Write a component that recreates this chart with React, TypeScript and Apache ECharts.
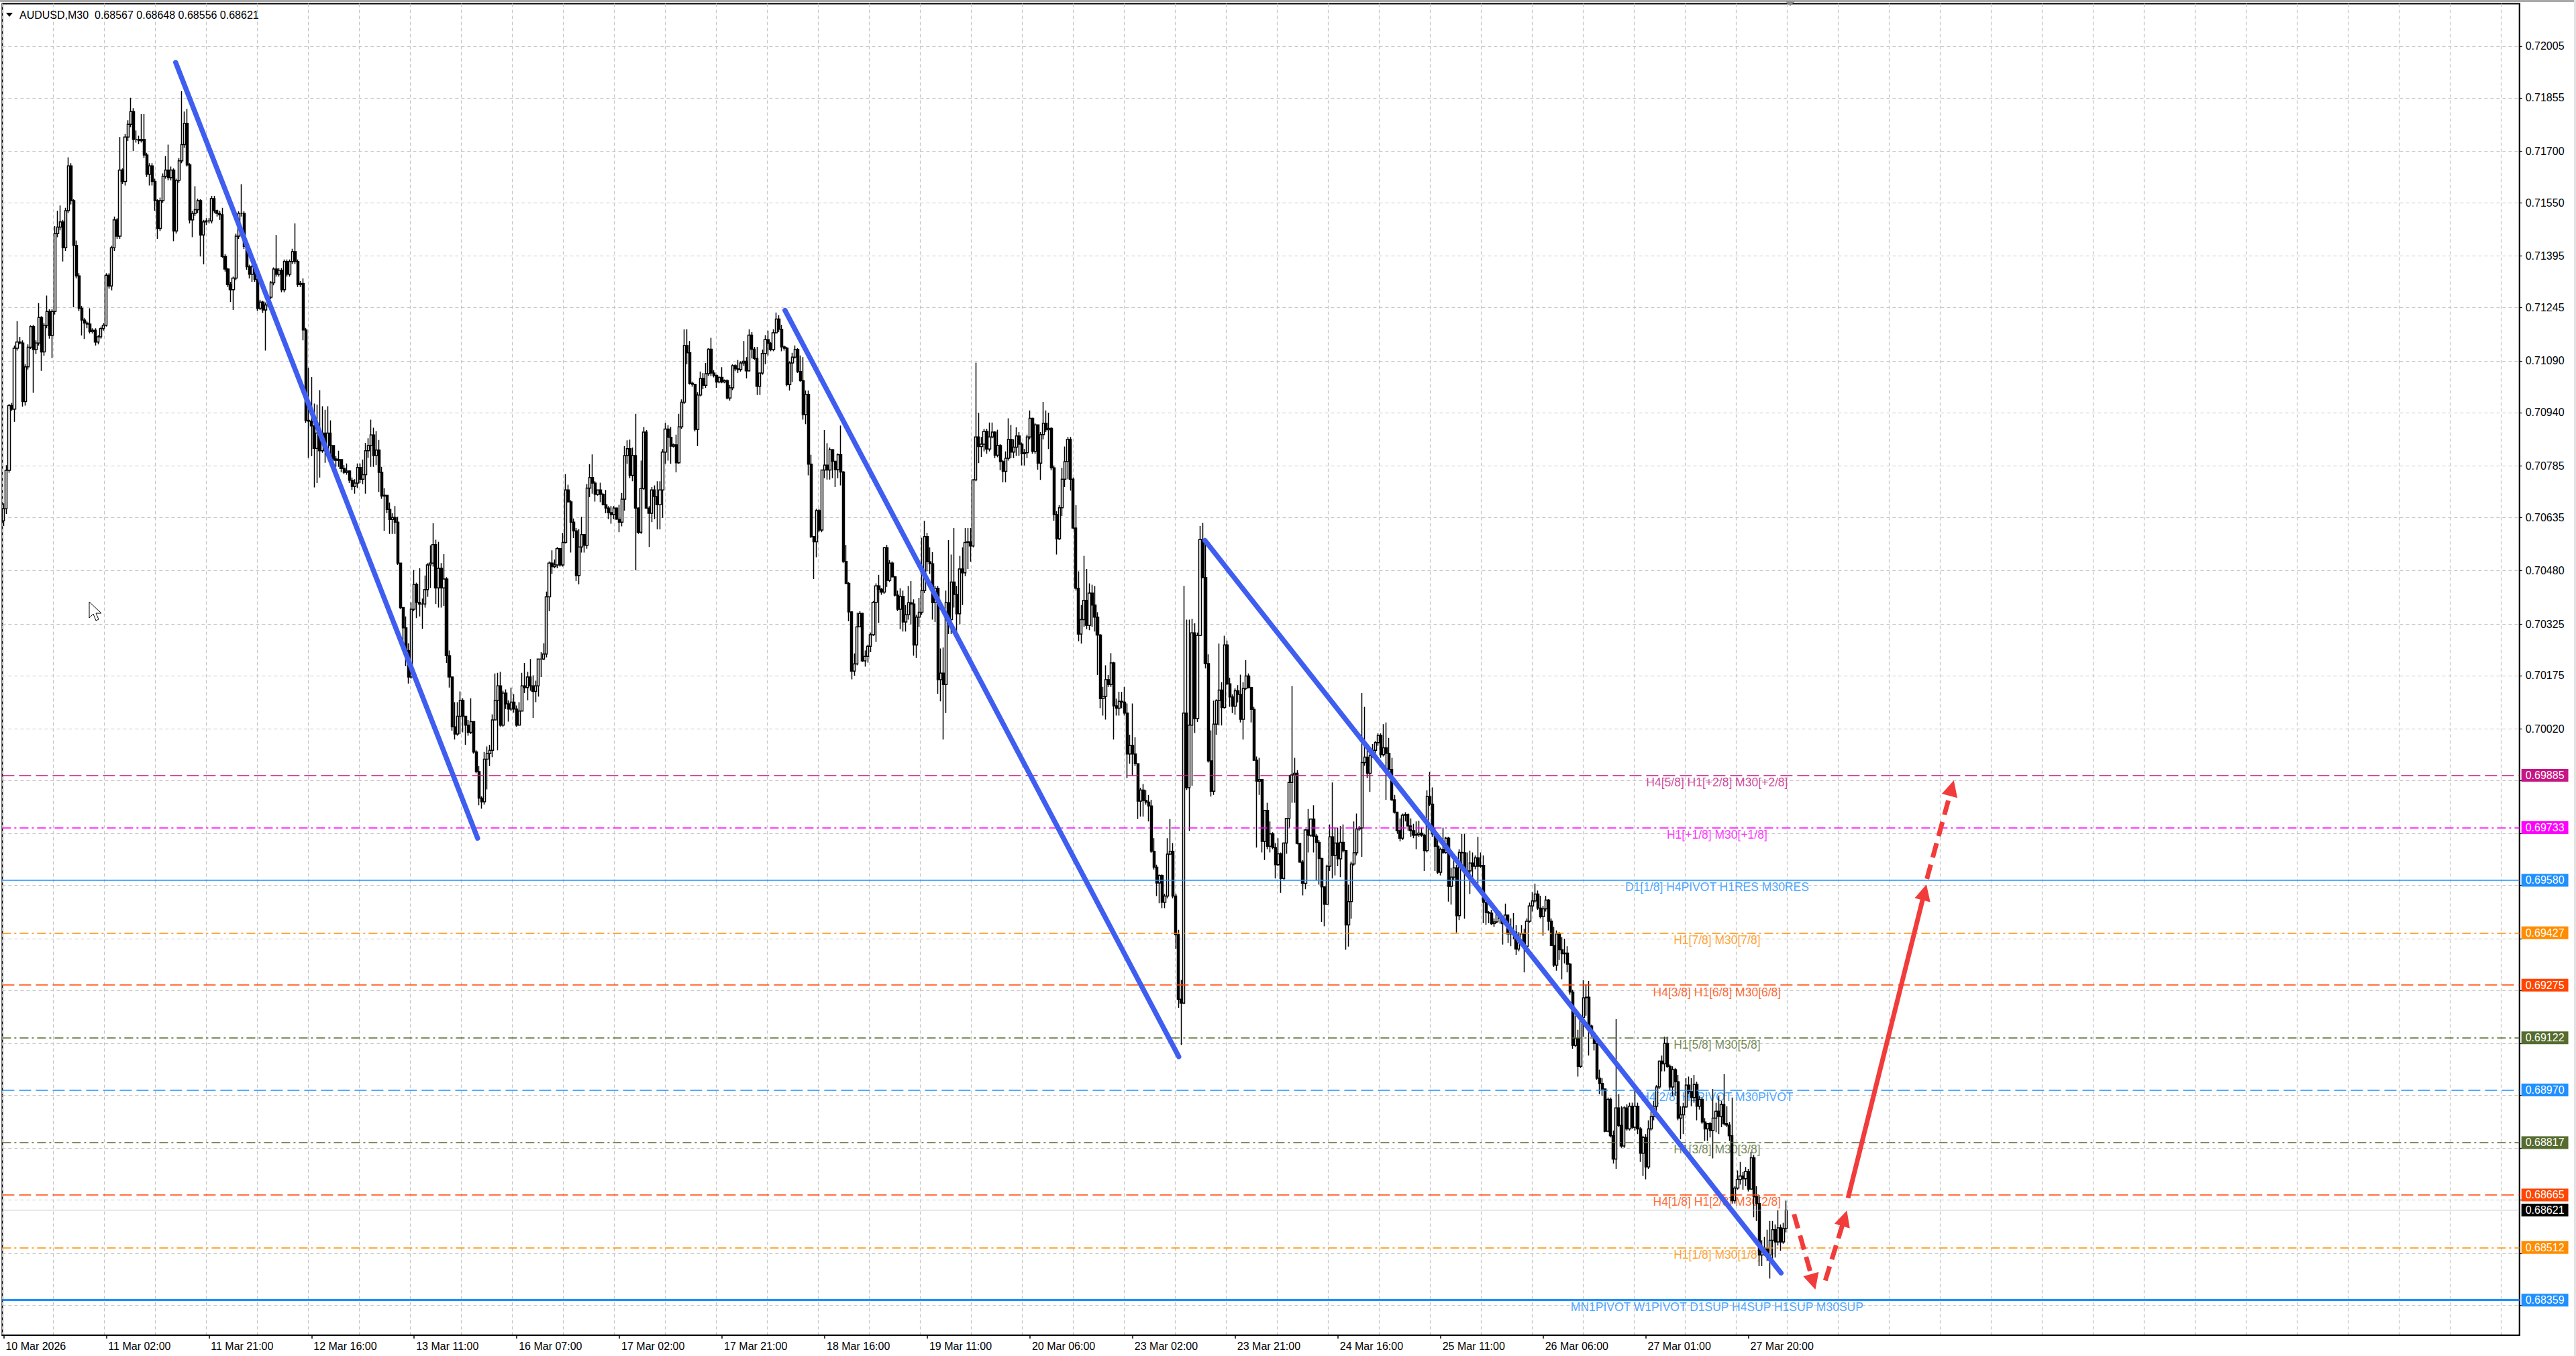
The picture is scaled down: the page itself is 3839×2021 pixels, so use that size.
import React, { useEffect, useRef } from 'react';
import * as echarts from 'echarts';

const FONT = 'Liberation Sans';

// ---- price data: M30 candles, [open, high, low, close] in points (0.00001) above 0.68000 ----
const BASE_PRICE = 0.68;
const POINT = 0.00001;

const ohlc10to12Mar = [
  [2625,2676,2610,2660],[2660,2787,2645,2772],[2772,2965,2765,2960],[2960,2968,2945,2950],[2950,3135,2913,3127],
  [3127,3206,3120,3145],[3145,3160,3138,3142],[3142,3150,2957,2972],[2972,3080,2960,3073],[3073,3138,3065,3130],
  [3130,3194,3125,3190],[3190,3195,2997,3123],[3123,3150,3110,3142],[3142,3258,3135,3216],[3216,3220,3061,3116],
  [3116,3200,3105,3194],[3194,3280,3185,3234],[3234,3240,3155,3164],[3164,3240,3098,3234],[3234,3482,3225,3460],
  [3460,3527,3450,3479],[3479,3542,3470,3494],[3494,3500,3379,3419],[3419,3535,3410,3527],[3527,3682,3520,3657],
  [3657,3665,3545,3556],[3556,3560,3246,3426],[3426,3440,3330,3337],[3337,3345,3235,3243],[3243,3250,3164,3209],
  [3209,3215,3154,3200],[3200,3205,3185,3197],[3197,3243,3170,3175],[3175,3185,3170,3179],[3179,3185,3135,3145],
  [3145,3165,3138,3160],[3160,3190,3155,3184],[3184,3200,3178,3194],[3194,3345,3190,3339],[3339,3345,3300,3308],
  [3308,3425,3295,3419],[3419,3510,3410,3500],[3500,3505,3445,3453],[3453,3741,3445,3645],[3645,3650,3605,3612],
  [3612,3750,3600,3741],[3741,3790,3730,3778],[3778,3855,3770,3815],[3815,3825,3700,3734],[3734,3760,3725,3734],
  [3734,3745,3720,3731],[3731,3808,3725,3734],[3734,3808,3680,3689],[3689,3695,3625,3633],[3633,3665,3600,3657],
  [3657,3665,3600,3612],[3612,3620,3527,3556],[3556,3560,3445,3475],[3475,3565,3468,3556],[3556,3635,3550,3627],
  [3627,3686,3620,3645],[3645,3719,3615,3623],[3623,3655,3615,3645],[3645,3650,3438,3468],[3468,3620,3460,3615],
  [3615,3680,3608,3672],[3672,3874,3665,3719],[3719,3815,3710,3781],[3781,3823,3655,3660],[3660,3665,3490,3500],
  [3500,3527,3450,3519],[3519,3598,3512,3530],[3530,3562,3520,3556],[3556,3560,3394,3456],[3456,3500,3371,3494],
  [3494,3505,3485,3497],[3497,3505,3490,3497],[3497,3570,3490,3562],[3562,3570,3520,3527],[3527,3530,3510,3519],
  [3519,3527,3500,3515],[3515,3535,3390,3394],[3394,3400,3350,3357],[3357,3360,3305,3312],[3312,3320,3261,3297],
  [3297,3335,3238,3331],[3331,3460,3325,3453],[3453,3525,3445,3519],[3519,3604,3510,3519],[3519,3525,3415,3423],
  [3423,3430,3355,3364],[3364,3370,3330,3342],[3342,3370,3320,3364],[3364,3370,3320,3327],[3327,3335,3235,3243],
  [3243,3268,3238,3261],[3261,3265,3230,3238],[3238,3260,3120,3253],[3253,3282,3246,3275],[3275,3322,3270,3317],
  [3317,3362,3310,3357],[3357,3456,3335,3342],[3342,3360,3335,3354],[3354,3360,3290,3297],[3297,3385,3290,3379],
  [3379,3385,3335,3342],[3342,3385,3335,3379],[3379,3416,3372,3408],[3408,3490,3372,3379],[3379,3385,3305,3312],
  [3312,3322,3305,3315],[3315,3330,3150,3180],[3180,3186,2910,2917],
];

const ohlc12to16Mar = [
  [2917,3070,2808,2915],[2915,3043,2813,2901],[2901,2966,2722,2836],[2836,2963,2735,2880],[2880,3005,2751,2829],
  [2829,2958,2823,2880],[2880,2948,2794,2829],[2829,2958,2813,2880],[2880,2917,2813,2844],[2844,2844,2782,2805],
  [2805,2813,2782,2801],[2801,2829,2782,2803],[2803,2803,2766,2777],[2777,2787,2761,2766],[2766,2792,2759,2770],
  [2770,2772,2735,2743],[2743,2751,2715,2725],[2725,2746,2704,2735],[2735,2792,2720,2780],[2780,2792,2735,2746],
  [2746,2803,2732,2759],[2759,2852,2704,2829],[2829,2865,2808,2844],[2844,2919,2782,2875],[2875,2896,2782,2815],
  [2815,2886,2787,2831],[2831,2860,2709,2766],[2766,2782,2689,2697],[2697,2720,2596,2699],[2699,2699,2647,2658],
  [2658,2678,2587,2629],[2629,2647,2587,2635],[2635,2668,2587,2621],[2621,2637,2497,2502],[2502,2502,2368,2373],
  [2373,2373,2254,2314],[2314,2347,2202,2248],[2248,2269,2152,2171],[2171,2388,2166,2368],[2368,2482,2362,2440],
  [2440,2445,2342,2388],[2388,2487,2347,2383],[2383,2399,2311,2383],[2383,2466,2373,2425],[2425,2502,2404,2497],
  [2497,2554,2430,2502],[2502,2618,2492,2556],[2556,2570,2383,2430],[2430,2564,2373,2487],[2487,2502,2373,2430],
  [2430,2528,2378,2456],[2456,2461,2212,2233],[2233,2248,2140,2171],[2171,2171,2015,2026],[2026,2098,1989,2005],
  [2005,2098,2000,2057],[2057,2129,2005,2103],[2103,2109,2010,2057],[2057,2057,1974,2031],[2031,2046,2000,2010],
  [2010,2109,2005,2041],[2041,2041,1948,1953],[1953,1958,1891,1896],[1896,1912,1798,1819],[1819,1824,1788,1808],
  [1808,1953,1800,1932],[1932,1969,1844,1948],[1948,1974,1912,1958],[1958,2062,1938,2046],[2046,2181,2046,2103],
  [2103,2183,1958,2145],[2145,2186,2026,2031],[2031,2131,2026,2124],[2124,2135,2078,2093],[2093,2103,2041,2078],
  [2078,2140,2072,2098],[2098,2121,2067,2078],[2078,2088,2026,2031],[2031,2098,2031,2072],[2072,2183,2072,2145],
  [2145,2212,2124,2140],[2140,2186,2103,2171],[2171,2223,2131,2145],[2145,2176,2052,2129],[2129,2160,2098,2145],
  [2145,2223,2114,2223],[2223,2243,2171,2223],[2223,2269,2220,2238],[2238,2419,2228,2404],[2404,2507,2362,2502],
  [2502,2539,2471,2492],[2492,2513,2487,2497],[2497,2549,2487,2544],[2544,2546,2492,2497],[2497,2590,2492,2562],
  [2562,2761,2559,2715],[2715,2730,2678,2680],[2680,2685,2533,2621],[2621,2632,2575,2596],[2596,2604,2450,2466],
  [2466,2601,2440,2549],[2549,2637,2533,2585],[2585,2585,2533,2554],[2554,2732,2544,2720],[2720,2790,2694,2751],
  [2751,2818,2704,2735],
];

const ohlc16to18Mar = [
  [2735,2740,2681,2702],[2702,2715,2698,2715],[2715,2736,2679,2702],[2702,2706,2670,2672],[2672,2715,2647,2662],
  [2662,2668,2630,2649],[2649,2668,2617,2643],[2643,2668,2630,2662],[2662,2664,2628,2630],[2630,2672,2592,2621],
  [2621,2706,2609,2688],[2688,2842,2655,2815],[2815,2859,2791,2835],[2835,2861,2749,2757],[2757,2838,2740,2815],
  [2815,2936,2481,2662],[2662,2664,2587,2592],[2592,2800,2587,2719],[2719,2898,2715,2883],[2883,2889,2660,2662],
  [2662,2668,2549,2647],[2647,2723,2621,2715],[2715,2728,2630,2696],[2696,2740,2600,2672],[2672,2740,2600,2715],
  [2715,2834,2634,2825],[2825,2910,2791,2892],[2892,2903,2800,2868],[2868,2898,2791,2842],[2842,2850,2838,2846],
  [2846,2876,2766,2794],[2794,2936,2791,2898],[2898,2978,2893,2970],[2970,3182,2965,3135],[3135,3182,3080,3114],
  [3114,3148,3021,3025],[3025,3030,3015,3022],[3022,3022,2885,2891],[2891,2999,2842,2991],[2991,3059,2987,3039],
  [3039,3055,3008,3019],[3019,3084,3012,3053],[3053,3127,3046,3124],[3124,3157,3046,3055],[3055,3063,3042,3048],
  [3048,3050,3012,3029],[3029,3045,3025,3042],[3042,3072,3025,3029],[3029,3036,3025,3033],[3033,3036,2978,2982],
  [2982,3020,2975,3012],[3012,3080,3005,3076],[3076,3080,3060,3067],[3067,3093,3055,3065],[3065,3089,3059,3084],
  [3084,3148,3076,3089],[3089,3101,3039,3061],[3061,3182,3059,3165],[3165,3174,3097,3124],[3124,3131,3093,3097],
  [3097,3131,2991,3016],[3016,3055,2991,3055],[3055,3123,3050,3112],[3112,3165,3080,3152],[3152,3178,3106,3141],
  [3141,3145,3118,3123],[3123,3182,3118,3172],[3172,3231,3170,3212],[3212,3223,3174,3182],[3182,3195,3118,3131],
  [3131,3135,3120,3127],[3127,3131,3016,3021],[3021,3089,3004,3084],[3084,3114,3029,3101],[3101,3135,3097,3123],
  [3123,3127,3055,3059],[3059,3106,3029,3033],[3033,3101,2919,2934],[2934,3004,2906,2993],[2993,3004,2757,2790],
  [2790,2817,2575,2579],[2579,2579,2456,2564],[2564,2660,2519,2655],[2655,2660,2592,2598],[2598,2774,2592,2773],
  [2773,2889,2749,2787],[2787,2851,2745,2773],[2773,2838,2745,2832],[2832,2834,2749,2798],[2798,2800,2723,2774],
  [2774,2821,2749,2817],[2817,2902,2728,2767],[2767,2770,2502,2507],[2507,2555,2441,2443],[2443,2447,2333,2360],
  [2360,2362,2164,2188],[2188,2239,2175,2209],[2209,2358,2205,2317],[2317,2362,2316,2356],[2356,2358,2215,2218],
  [2218,2248,2201,2231],[2231,2265,2213,2260],[2260,2300,2243,2294],[2294,2392,2290,2388],[2388,2443,2273,2436],
  [2436,2468,2328,2426],[2426,2430,2410,2418],[2418,2549,2413,2547],[2547,2555,2433,2452],[2452,2511,2447,2502],
  [2502,2507,2460,2462],[2462,2465,2405,2409],[2409,2422,2362,2368],
];

const ohlc18to23Mar = [
  [2368,2429,2310,2405],[2405,2422,2303,2331],[2331,2380,2303,2352],[2352,2436,2338,2387],[2387,2450,2324,2383],
  [2383,2397,2233,2264],[2264,2352,2226,2345],[2345,2401,2317,2359],[2359,2576,2352,2422],[2422,2625,2415,2579],
  [2579,2590,2478,2506],[2506,2548,2471,2500],[2500,2534,2338,2387],[2387,2436,2331,2429],[2429,2436,2122,2163],
  [2163,2254,2100,2182],[2182,2257,1989,2149],[2149,2422,2066,2387],[2387,2569,2296,2338],[2338,2527,2296,2447],
  [2447,2604,2373,2411],[2411,2436,2303,2355],[2355,2523,2324,2485],[2485,2548,2380,2474],[2474,2604,2464,2562],
  [2562,2604,2485,2564],[2564,2604,2506,2552],[2552,2746,2548,2744],[2744,3085,2740,2869],[2869,2939,2793,2841],
  [2841,2869,2811,2848],[2848,2893,2827,2885],[2885,2893,2820,2834],[2834,2911,2827,2869],[2869,2911,2865,2883],
  [2883,2886,2807,2816],[2816,2890,2810,2844],[2844,2848,2772,2797],[2797,2802,2737,2769],[2769,2827,2737,2807],
  [2807,2923,2800,2862],[2862,2904,2807,2825],[2825,2862,2807,2839],[2839,2897,2814,2872],[2872,2883,2814,2848],
  [2848,2853,2786,2820],[2820,2834,2786,2823],[2823,2876,2807,2869],[2869,2946,2862,2923],[2923,2925,2820,2827],
  [2827,2909,2820,2904],[2904,2904,2774,2793],[2793,2883,2744,2876],[2876,2971,2862,2909],[2909,2946,2883,2890],
  [2890,2939,2834,2894],[2894,2897,2772,2779],[2779,2786,2625,2643],[2643,2653,2527,2573],[2573,2671,2569,2663],
  [2663,2779,2639,2746],[2746,2841,2723,2797],[2797,2869,2746,2862],[2862,2869,2713,2746],[2746,2751,2601,2604],
  [2604,2671,2422,2429],[2429,2478,2275,2296],[2296,2380,2268,2338],[2338,2523,2317,2394],[2394,2485,2310,2321],
  [2321,2443,2307,2415],[2415,2439,2317,2380],[2380,2436,2303,2345],[2345,2359,2177,2293],[2293,2296,2080,2108],
  [2108,2142,2059,2115],[2115,2205,2047,2163],[2163,2177,2142,2149],[2149,2240,2142,2212],[2212,2215,1989,2087],
  [2087,2108,2059,2080],[2080,2128,2059,2100],[2100,2128,2080,2098],[2098,2142,2059,2066],[2066,2094,1877,1947],
  [1947,2003,1919,1972],[1972,2094,1884,1947],[1947,1996,1912,1919],[1919,1919,1758,1810],[1810,1849,1765,1842],
  [1842,1860,1765,1812],[1812,1842,1800,1807],[1807,1828,1751,1796],[1796,1814,1660,1664],[1664,1702,1611,1618],
  [1618,1625,1534,1572],[1572,1597,1513,1594],[1594,1597,1499,1516],[1516,1541,1499,1534],[1534,1702,1527,1656],
  [1656,1758,1653,1664],[1664,1688,1527,1534],[1534,1541,1381,1422],[1422,1436,1209,1234],[1234,1290,1101,1223],
  [1223,2436,1220,2066],[2066,2338,1842,1849],[1849,2338,1723,2031],[2031,2340,1855,2299],[2299,2327,2008,2050],
];

const ohlc23to25Mar = [
  [2050,2300,2040,2292],[2292,2610,2290,2571],[2571,2619,2458,2460],[2460,2569,2196,2210],[2210,2237,1922,1927],
  [1927,2016,1823,1839],[1839,2102,1828,2034],[2034,2106,2003,2102],[2102,2268,2030,2133],[2133,2156,2030,2082],
  [2082,2291,2079,2264],[2264,2277,2147,2151],[2151,2169,2084,2113],[2113,2120,2066,2086],[2086,2138,2061,2131],
  [2131,2147,2097,2120],[2120,2178,2039,2048],[2048,2156,1989,2138],[2138,2220,2133,2174],[2174,2181,2138,2140],
  [2140,2142,2039,2077],[2077,2084,1927,1929],[1929,1940,1675,1868],[1868,1936,1828,1873],[1873,1873,1661,1693],
  [1693,1783,1639,1783],[1783,1805,1670,1679],[1679,1751,1661,1715],[1715,1720,1670,1675],[1675,1688,1585,1625],
  [1625,1702,1621,1657],[1657,1661,1543,1585],[1585,1690,1580,1688],[1688,1760,1657,1760],[1760,1886,1733,1864],
  [1864,2145,1805,1886],[1886,1936,1805,1891],[1891,1900,1684,1687],[1687,1688,1630,1633],[1633,1639,1536,1571],
  [1571,1729,1554,1726],[1726,1787,1661,1711],[1711,1760,1706,1758],[1758,1798,1661,1708],[1708,1715,1580,1690],
  [1690,1697,1567,1643],[1643,1645,1459,1561],[1561,1562,1446,1510],[1510,1625,1509,1621],[1621,1742,1607,1706],
  [1706,1864,1585,1652],[1652,1733,1594,1688],[1688,1733,1621,1642],[1642,1738,1589,1690],[1690,1742,1661,1666],
  [1666,1668,1378,1450],[1450,1567,1387,1518],[1518,1634,1468,1627],[1627,1751,1622,1660],[1660,1774,1652,1729],
  [1729,1738,1724,1732],[1732,2124,1648,1922],[1922,2084,1913,1938],[1938,1958,1877,1891],[1891,1958,1837,1942],
  [1942,1976,1936,1958],[1958,1985,1945,1980],[1980,2007,1971,2001],[2001,2007,1936,1945],[1945,2034,1940,1965],
  [1965,2039,1814,1949],[1949,1994,1900,1902],[1902,1936,1810,1814],[1814,1828,1774,1778],[1778,1778,1715,1724],
  [1724,1760,1693,1702],[1702,1774,1697,1769],[1769,1778,1751,1771],[1771,1774,1724,1738],[1738,1760,1706,1724],
  [1724,1744,1702,1711],[1711,1751,1670,1713],[1713,1753,1706,1717],[1717,1733,1706,1711],[1711,1715,1607,1666],
  [1666,1841,1661,1823],[1823,1895,1796,1801],[1801,1850,1706,1715],[1715,1733,1607,1679],[1679,1706,1598,1603],
  [1603,1675,1594,1670],[1670,1733,1657,1661],[1661,1706,1657,1702],[1702,1706,1518,1562],[1562,1616,1509,1589],
  [1589,1643,1580,1616],[1616,1625,1428,1477],[1477,1670,1464,1661],[1661,1715,1616,1660],[1660,1715,1468,1603],
  [1603,1661,1603,1607],[1607,1666,1540,1630],[1630,1661,1580,1621],[1621,1652,1612,1645],[1645,1706,1571,1621],
  [1621,1661,1616,1623],[1623,1652,1455,1516],[1516,1518,1450,1486],[1486,1490,1455,1484],
];

const ohlc25to27Mar = [
  [1484,1494,1449,1454],[1454,1469,1444,1459],[1459,1494,1455,1484],[1484,1489,1454,1469],[1469,1474,1393,1454],
  [1454,1512,1449,1479],[1479,1479,1398,1424],[1424,1469,1388,1427],[1427,1484,1408,1429],[1429,1449,1363,1380],
  [1380,1429,1373,1398],[1398,1449,1393,1424],[1424,1439,1312,1388],[1388,1469,1373,1461],[1461,1515,1457,1505],
  [1505,1545,1489,1520],[1520,1570,1515,1540],[1540,1550,1494,1499],[1499,1535,1469,1474],[1474,1505,1419,1497],
  [1497,1535,1489,1522],[1522,1525,1434,1461],[1461,1469,1388,1390],[1390,1444,1328,1333],[1333,1434,1317,1424],
  [1424,1429,1348,1378],[1378,1414,1292,1366],[1366,1410,1338,1368],[1368,1388,1312,1336],[1336,1340,1247,1255],
  [1255,1262,1090,1100],[1100,1186,1095,1120],[1120,1145,1009,1039],[1039,1186,1034,1181],[1181,1289,1125,1238],
  [1238,1277,1186,1240],[1240,1287,1070,1156],[1156,1160,1125,1135],[1135,1140,1085,1105],[1105,1105,999,1004],
  [1004,1029,958,989],[989,1004,953,973],[973,973,847,850],[850,948,847,943],[943,948,832,837],
  [837,852,756,769],[769,1176,741,918],[918,958,862,867],[867,923,802,807],[807,923,802,918],
  [918,928,852,857],[857,933,852,923],[923,933,857,862],[862,968,852,923],[923,933,842,857],
  [857,862,761,786],[786,837,720,832],[832,842,710,746],[746,882,741,857],[857,923,852,893],
  [893,938,882,923],[923,984,898,979],[979,1056,973,1054],[1054,1070,1024,1046],[1046,1125,1024,1105],
  [1105,1125,1034,1039],[1039,1044,968,979],[979,1039,953,1029],[1029,1034,953,994],[994,1014,882,888],
  [888,923,827,898],[898,933,842,921],[921,1004,918,984],[984,1009,958,965],[965,1004,923,948],
  [948,1014,933,986],[986,994,882,923],[923,953,913,943],[943,948,872,877],[877,888,822,857],
  [857,872,822,872],[872,877,832,852],[852,973,771,888],[888,933,847,908],[908,953,842,893],
  [893,938,862,928],[928,1016,867,872],[872,923,862,868],[868,877,822,837],[837,948,640,648],
  [648,690,640,685],[685,736,680,710],[710,761,695,720],[720,731,680,712],[712,746,690,733],
  [733,741,675,682],[682,790,680,773],[773,782,600,660],[660,690,589,640],[640,665,458,490],
  [490,533,458,503],[503,543,488,510],[510,564,473,490],[490,589,422,533],[533,589,468,564],
  [564,579,483,528],[528,621,518,569],[569,579,503,528],[528,584,523,567],[567,648,556,621],
];

// ---- axes ----
const xTickLabels = [
  '10 Mar 2026', '11 Mar 02:00', '11 Mar 21:00', '12 Mar 16:00', '13 Mar 11:00', '16 Mar 07:00',
  '17 Mar 02:00', '17 Mar 21:00', '18 Mar 16:00', '19 Mar 11:00', '20 Mar 06:00', '23 Mar 02:00',
  '23 Mar 21:00', '24 Mar 16:00', '25 Mar 11:00', '26 Mar 06:00', '27 Mar 01:00', '27 Mar 20:00',
];
const barsPerLabel = 38;
const barsPerGridLine = 18.882;
const totalSlots = 932;

// price grid ticks; the lower ones sit under the level price boxes, so only the upper ones carry a label
const priceGridTicks = [
  0.72005, 0.71855, 0.717, 0.7155, 0.71395, 0.71245, 0.7109, 0.7094, 0.70785, 0.70635, 0.7048, 0.70325,
  0.70175, 0.7002, 0.6987, 0.69715, 0.69565, 0.6941, 0.6926, 0.69105, 0.68955, 0.688, 0.6865, 0.68495, 0.68345,
];
const priceTickLabels = [
  0.72005, 0.71855, 0.717, 0.7155, 0.71395, 0.71245, 0.7109, 0.7094, 0.70785, 0.70635, 0.7048, 0.70325,
  0.70175, 0.7002,
];
const priceMin = 0.68257;
const priceMax = 0.72129;

// ---- Murrey / pivot levels ----
const levelPrices = [0.69885, 0.69733, 0.6958, 0.69427, 0.69275, 0.69122, 0.6897, 0.68817, 0.68665, 0.68512, 0.68359];
const levelTexts = [
  'H4[5/8] H1[+2/8] M30[+2/8]',
  'H1[+1/8] M30[+1/8]',
  'D1[1/8] H4PIVOT H1RES M30RES',
  'H1[7/8] M30[7/8]',
  'H4[3/8] H1[6/8] M30[6/8]',
  'H1[5/8] M30[5/8]',
  'H4[2/8] H1PIVOT M30PIVOT',
  'H1[3/8] M30[3/8]',
  'H4[1/8] H1[2/8] M30[2/8]',
  'H1[1/8] M30[1/8]',
  'MN1PIVOT W1PIVOT D1SUP H4SUP H1SUP M30SUP',
];
const lastPrice = 0.68621;
const headerText = 'AUDUSD,M30  0.68567 0.68648 0.68556 0.68621';

// ---- drawn annotations, [bar, price] ----
const trendLines = [
  [[63.7, 0.71958], [175.5, 0.69702]],
  [[289.3, 0.71237], [435.1, 0.69067]],
  [[444.8, 0.70568], [658.1, 0.68438]],
];
const forecastSegments = [
  [[662.9, 0.68609], [670.0, 0.68412]],
  [[674.5, 0.68416], [681.6, 0.68597]],
  [[682.9, 0.68656], [711.2, 0.69545]],
  [[712.1, 0.69584], [721.3, 0.69848]],
];
const levelLabelBar = 634.4;

// ---- styles ----
const LEVEL_COLORS = ['#C71585', '#FF00FF', '#1E90FF', '#FF8C00', '#FF4500', '#556B2F', '#1E90FF', '#556B2F', '#FF4500', '#FF8C00', '#1E90FF'];
const DASH = [18, 7];
const DASHDOT = [13, 5, 3, 5];
const LEVEL_LINE_TYPES: any[] = [DASH, DASHDOT, 'solid', DASHDOT, DASH, DASHDOT, DASH, DASHDOT, DASH, DASHDOT, 'solid'];
const LEVEL_WIDTHS = [1.5, 1.5, 1.5, 1.5, 1.5, 1.5, 1.5, 1.5, 1.5, 1.5, 3];
const FORECAST_DASHED = [true, true, false, true];
const TREND_BLUE = '#3F5EF0';
const FORECAST_RED = '#F23C3C';
const GRID_COLOR = '#C4C4C4';

function toPrice(p: number) {
  return +(BASE_PRICE + p * POINT).toFixed(5);
}

function buildOption() {
  const allBars = [
    ...ohlc10to12Mar, ...ohlc12to16Mar, ...ohlc16to18Mar,
    ...ohlc18to23Mar, ...ohlc23to25Mar, ...ohlc25to27Mar,
  ];
  const candleData = allBars.map(([o, h, l, c]) => [toPrice(o), toPrice(c), toPrice(l), toPrice(h)]);
  const slotKeys = Array.from({ length: totalSlots }, (_, i) => String(i));
  const isLabelSlot = (i: number) => i % barsPerLabel === 0 && i / barsPerLabel < xTickLabels.length;

  const levelMarkData: any[] = levelPrices.map((p, k) => ({
    yAxis: p,
    lineStyle: { color: LEVEL_COLORS[k], width: LEVEL_WIDTHS[k], type: LEVEL_LINE_TYPES[k] },
    label: {
      show: true, position: 'end', formatter: p.toFixed(5), color: '#fff',
      backgroundColor: LEVEL_COLORS[k], padding: [1, 6, 1, 6], fontSize: 16, fontFamily: FONT,
      distance: 3, lineHeight: 17,
    },
  }));
  levelMarkData.push({
    yAxis: lastPrice,
    lineStyle: { color: '#BDBDBD', width: 1.2, type: 'solid' },
    label: {
      show: true, position: 'end', formatter: lastPrice.toFixed(5), color: '#fff',
      backgroundColor: '#000', padding: [1, 6, 1, 6], fontSize: 16, fontFamily: FONT,
      distance: 3, lineHeight: 17,
    },
  });

  const series: any[] = [
    {
      name: 'levelTexts', type: 'scatter', xAxisIndex: 1, yAxisIndex: 0, z: 1, silent: true,
      symbolSize: 0,
      data: levelPrices.map((p, k) => ({
        value: [levelLabelBar, p],
        label: { color: LEVEL_COLORS[k], formatter: levelTexts[k] },
      })),
      label: { show: true, position: 'bottom', distance: 0, fontSize: 17.5, fontFamily: FONT, lineHeight: 21 },
    },
    {
      name: 'AUDUSD', type: 'candlestick', xAxisIndex: 0, yAxisIndex: 0, z: 3, silent: true,
      large: false, barWidth: 3.6, data: candleData,
      itemStyle: { color: '#ffffff', color0: '#000000', borderColor: '#000000', borderColor0: '#000000', borderWidth: 1.5 },
    },
    {
      name: 'levels', type: 'line', xAxisIndex: 1, yAxisIndex: 0, z: 4, silent: true, clip: false,
      symbol: 'none', showSymbol: false, lineStyle: { opacity: 0, width: 0 },
      data: levelPrices.map((p) => [-0.5, p]),
      markLine: { silent: true, symbol: 'none', animation: false, precision: 5, data: levelMarkData },
    },
    ...trendLines.map((pts, k) => ({
      name: 'trend' + k, type: 'line', xAxisIndex: 1, yAxisIndex: 0, z: 5, silent: true, clip: false,
      symbol: 'none', showSymbol: false, data: pts,
      lineStyle: { color: TREND_BLUE, width: 7.5, cap: 'round' },
    })),
    {
      name: 'forecast', type: 'line', xAxisIndex: 1, yAxisIndex: 0, z: 6, silent: true, clip: false,
      symbol: 'none', showSymbol: false, lineStyle: { opacity: 0, width: 0 },
      data: forecastSegments.map((s) => s[0]),
      markLine: {
        silent: true, animation: false, precision: 5, symbol: ['none', 'triangle'], symbolSize: 24,
        label: { show: false },
        data: forecastSegments.map((s, k) => [
          { coord: s[0], lineStyle: { color: FORECAST_RED, width: 7, type: FORECAST_DASHED[k] ? [22, 11] : 'solid', cap: 'butt' } },
          { coord: s[1] },
        ]),
      },
    },
  ];

  return {
    animation: false,
    backgroundColor: '#ffffff',
    textStyle: { fontFamily: FONT },
    title: {
      text: headerText, left: 29, top: 14, padding: 0,
      textStyle: { fontSize: 16, fontWeight: 'normal', color: '#000', fontFamily: FONT },
    },
    grid: {
      left: 3.4, right: 84.3, top: 5.4, bottom: 31, show: true, borderColor: '#000', borderWidth: 2,
      containLabel: false, outerBoundsMode: 'none',
    },
    xAxis: [
      {
        type: 'category', data: slotKeys, boundaryGap: true, position: 'bottom',
        axisLine: { show: true, onZero: false, lineStyle: { color: '#000', width: 2 } },
        axisTick: { show: true, alignWithLabel: true, interval: (i: number) => isLabelSlot(i), length: 5, lineStyle: { color: '#000', width: 1.5 } },
        axisLabel: {
          show: true, interval: (i: number) => isLabelSlot(i),
          formatter: (_v: string, i: number) => (isLabelSlot(i) ? xTickLabels[i / barsPerLabel] : ''),
          align: 'left', color: '#000', fontSize: 16, fontFamily: FONT, margin: 8, padding: [0, 0, 0, 3],
        },
        splitLine: { show: false },
      },
      {
        type: 'value', min: -0.5, max: totalSlots - 0.5, interval: barsPerGridLine, position: 'top',
        axisLine: { show: false }, axisTick: { show: false }, axisLabel: { show: false },
        splitLine: { show: true, lineStyle: { color: GRID_COLOR, type: [5, 4], width: 1.2 } },
      },
    ],
    yAxis: {
      type: 'value', position: 'right', min: priceMin, max: priceMax, scale: true,
      axisLine: { show: true, onZero: false, lineStyle: { color: '#000', width: 2 } },
      axisTick: { show: true, customValues: priceGridTicks, length: 4, lineStyle: { color: '#000', width: 1.2 } },
      axisLabel: {
        show: true, customValues: priceTickLabels, formatter: (v: number) => v.toFixed(5),
        color: '#000', fontSize: 16, fontFamily: FONT, margin: 9,
      },
      splitLine: { show: true, lineStyle: { color: GRID_COLOR, type: [5, 4], width: 1.2 } },
    },
    graphic: [
      { type: 'rect', shape: { x: 0, y: 0, width: 3839, height: 3 }, style: { fill: '#A9A9A9' }, silent: true },
      { type: 'rect', shape: { x: 3836, y: 0, width: 3, height: 2021 }, style: { fill: '#E3E3E3' }, silent: true },
      { type: 'polygon', shape: { points: [[9, 19], [19, 19], [14, 25]] }, style: { fill: '#000' }, silent: true },
      { type: 'polygon', shape: { points: [[2661, 2], [2675, 2], [2668, 9]] }, style: { fill: '#8C8C8C' }, silent: true },
      {
        type: 'polygon',
        shape: { points: [[133, 897], [133, 921], [139, 915], [143, 925], [147, 923], [143, 914], [151, 914]] },
        style: { fill: '#fff', stroke: '#000', lineWidth: 1 }, silent: true,
      },
    ],
    series,
  };
}

export default function App() {
  const ref = useRef<HTMLDivElement>(null);
  useEffect(() => {
    document.body.style.margin = '0';
    document.body.style.overflow = 'hidden';
    const el = ref.current as HTMLDivElement;
    const chart = echarts.init(el, null, { renderer: 'svg', width: 3839, height: 2021 });
    chart.setOption(buildOption() as any);
    return () => chart.dispose();
  }, []);
  return <div ref={ref} style={{ width: 3839, height: 2021, background: '#fff' }} />;
}
